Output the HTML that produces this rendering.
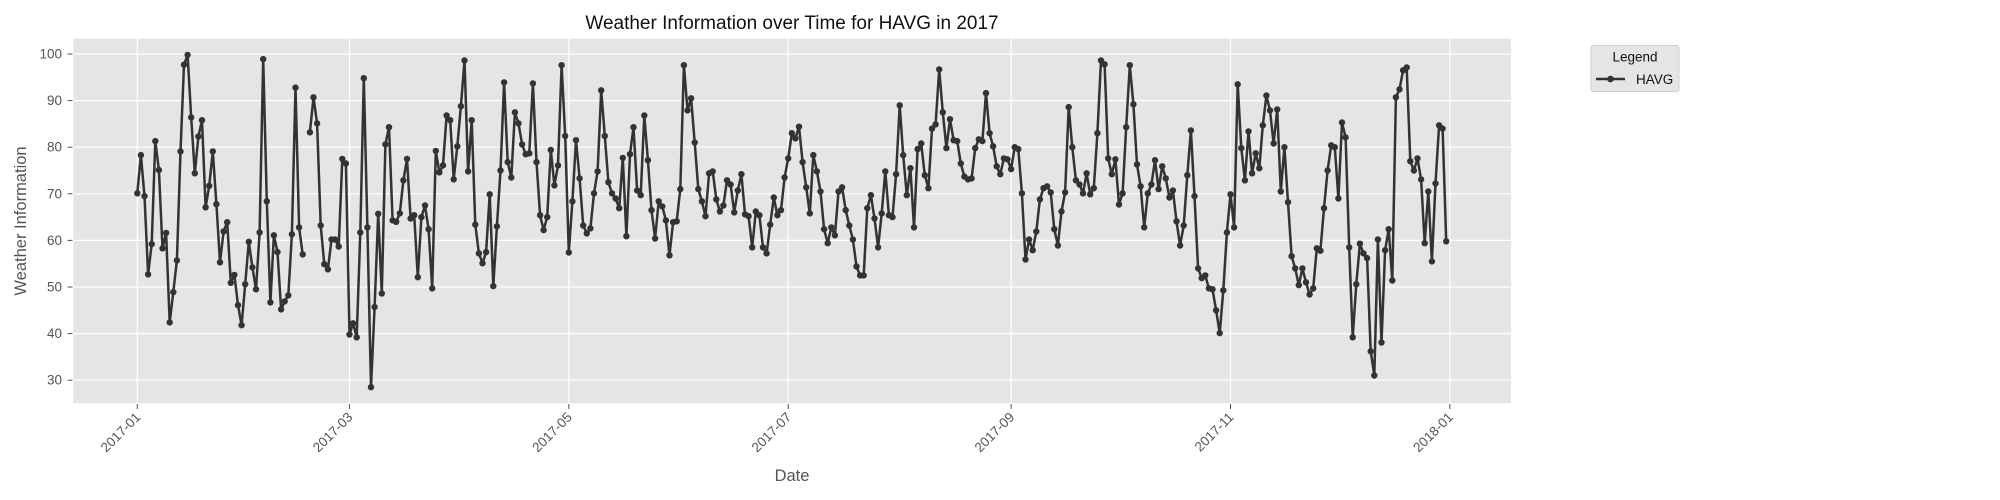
<!DOCTYPE html>
<html><head><meta charset="utf-8"><style>
html,body{margin:0;padding:0;background:#fff;}
svg{display:block;font-family:"Liberation Sans","DejaVu Sans",sans-serif;}
</style></head><body>
<svg id="chart" width="2000" height="500" viewBox="0 0 2000 500" xmlns="http://www.w3.org/2000/svg">
<rect width="2000" height="500" fill="#fff"/>
<text x="792" y="29" text-anchor="middle" font-size="19" fill="#111">Weather Information over Time for HAVG in 2017</text>
<rect x="73.3" y="38.5" width="1437.7" height="364.8" fill="#e5e5e5"/>
<g id="grid"></g>
<g id="series"></g>
<g id="xticks"></g>
<g id="yticks"></g>
<text x="792" y="481" text-anchor="middle" font-size="16.5" fill="#555">Date</text>
<text x="0" y="0" transform="translate(26,221) rotate(-90)" text-anchor="middle" font-size="16.5" fill="#555">Weather Information</text>
<g>
<rect x="1591" y="45.5" width="88" height="46" rx="2" fill="#e5e5e5" stroke="#d0d0d0" stroke-width="1"/>
<text x="1635" y="61.5" text-anchor="middle" font-size="13.5" fill="#111">Legend</text>
<line x1="1596" y1="79" x2="1625" y2="79" stroke="#333" stroke-width="2.5"/>
<circle cx="1610.5" cy="79" r="3.3" fill="#333"/>
<text x="1636" y="84" font-size="13.5" fill="#111">HAVG</text>
</g>
</svg>
<script>
const seriesName = "HAVG";
const startDate = "2017-01-01";
const havgValues = [
70.1,78.3,69.5,52.7,59.2,81.3,75.1,58.3,61.6,42.4,48.9,55.7,79.1,97.7,99.8,86.4,74.4,82.3,85.8,67.1,
71.7,79.1,67.8,55.3,61.9,63.9,50.9,52.6,46.1,41.8,50.6,59.7,54.2,49.5,61.7,98.9,68.4,46.7,61.1,57.5,
45.2,46.9,48.2,61.3,92.8,62.8,57.0,null,83.2,90.7,85.1,63.2,54.9,53.8,60.2,60.2,58.7,77.5,76.5,39.8,
42.2,39.2,61.7,94.8,62.8,28.5,45.7,65.7,48.6,80.6,84.3,64.3,64.0,65.8,72.9,77.5,64.7,65.4,52.1,65.0,
67.5,62.4,49.7,79.2,74.6,76.1,86.8,85.8,73.1,80.2,88.8,98.6,74.8,85.8,63.4,57.2,55.1,57.5,69.9,50.2,
63.0,75.0,93.9,76.8,73.5,87.5,85.1,80.6,78.5,78.7,93.7,76.8,65.4,62.2,65.0,79.4,71.8,76.1,97.6,82.4,
57.4,68.4,81.5,73.3,63.2,61.5,62.6,70.1,74.8,92.2,82.4,72.5,70.1,69.0,66.9,77.7,60.9,78.5,84.3,70.7,
69.7,86.8,77.2,66.5,60.4,68.4,67.3,64.3,56.8,63.9,64.1,71.0,97.6,87.9,90.5,81.0,71.0,68.4,65.2,74.4,
74.8,68.8,66.2,67.5,72.9,72.0,66.0,70.7,74.2,65.6,65.2,58.5,66.2,65.4,58.5,57.2,63.4,69.2,65.4,66.5,
73.5,77.6,83.0,81.9,84.4,76.8,71.4,65.8,78.3,74.8,70.5,62.4,59.4,62.8,61.1,70.5,71.4,66.5,63.2,60.2,
54.4,52.5,52.5,66.9,69.7,64.7,58.5,65.8,74.8,65.4,65.0,74.2,89.0,78.3,69.7,75.5,62.8,79.6,80.8,74.0,
71.2,84.0,84.9,96.7,87.5,79.8,86.0,81.5,81.3,76.5,73.7,73.1,73.3,79.8,81.7,81.3,91.6,83.0,80.2,75.9,
74.2,77.6,77.4,75.3,80.0,79.6,70.1,55.9,60.2,57.9,61.9,68.8,71.2,71.6,70.3,62.4,58.9,66.2,70.3,88.6,
80.0,72.9,72.0,70.1,74.4,69.9,71.2,83.0,98.6,97.8,77.6,74.2,77.4,67.7,70.1,84.3,97.6,89.2,76.3,71.6,
62.8,70.1,72.0,77.2,71.0,75.9,73.3,69.2,70.7,64.1,58.9,63.2,74.0,83.6,69.5,54.0,51.9,52.5,49.7,49.5,
45.0,40.1,49.3,61.7,69.9,62.8,93.5,79.8,72.9,83.4,74.4,78.7,75.5,84.7,91.1,87.9,80.8,88.1,70.5,80.0,
68.2,56.6,54.0,50.4,54.0,51.0,48.4,49.7,58.3,57.8,66.9,75.0,80.4,80.0,69.0,85.3,82.1,58.5,39.2,50.6,
59.3,57.2,56.2,36.2,31.0,60.2,38.1,57.9,62.4,51.4,90.7,92.4,96.5,97.1,77.0,75.0,77.6,73.1,59.4,70.5,
55.5,72.2,84.7,84.0,59.8
];
const yTickValues = [30,40,50,60,70,80,90,100];
const xTickLabels = ["2017-01","2017-03","2017-05","2017-07","2017-09","2017-11","2018-01"];
const xTickDays = [0,59,120,181,243,304,365];

const NS = "http://www.w3.org/2000/svg";
const plotL = 73.3, plotR = 1511, plotT = 38.5, plotB = 403.3;
function xScale(day){ return 137.3 + day * 3.596; }
function yScale(v){ return 54 + (100 - v) * 4.66; }
function mk(tag, attrs, parent){ const e = document.createElementNS(NS, tag); for (const k in attrs) e.setAttribute(k, attrs[k]); parent.appendChild(e); return e; }

const grid = document.getElementById('grid');
const xt = document.getElementById('xticks');
const yt = document.getElementById('yticks');
const ser = document.getElementById('series');

yTickValues.forEach(v => {
  const y = yScale(v);
  const g = mk('line', {x1: plotL, x2: plotR, y1: y, y2: y, stroke: '#fff', 'stroke-width': 1.2}, grid);
  
  
  const t = mk('line', {x1: 67.5, x2: 72.5, y1: y, y2: y, stroke: '#555', 'stroke-width': 1}, yt);
  
  
  const l = mk('text', {x: 62, y: y + 4.5, 'text-anchor': 'end', 'font-size': 13.5, fill: '#555'}, yt);
  
  
  l.textContent = v;
});

xTickDays.forEach((d, i) => {
  const x = xScale(d);
  const g = mk('line', {x1: x, x2: x, y1: plotT, y2: plotB, stroke: '#fff', 'stroke-width': 1.2}, grid);
  
  
  const t = mk('line', {x1: x, x2: x, y1: 404, y2: 409, stroke: '#555', 'stroke-width': 1}, xt);
  
  
  const l = mk('text', {x: 0, y: 0, 'text-anchor': 'end', 'font-size': 13.5, fill: '#555', transform: 'translate(' + (x + 4) + ',418) rotate(-45)'}, xt);
  
  
  l.textContent = xTickLabels[i];
});

let segs = [], cur = [];
havgValues.forEach((v, i) => {
  if (v === null) { if (cur.length) segs.push(cur); cur = []; return; }
  cur.push([xScale(i), yScale(v)]);
});
if (cur.length) segs.push(cur);
segs.forEach(s => {
  const p = mk('polyline', {points: s.map(q => q[0].toFixed(1) + ',' + q[1].toFixed(1)).join(' '), fill: 'none', stroke: '#333', 'stroke-width': 2.5, 'stroke-linejoin': 'round'}, ser);
  
  
});
havgValues.forEach((v, i) => {
  if (v === null) return;
  const c = mk('circle', {cx: xScale(i).toFixed(1), cy: yScale(v).toFixed(1), r: 3.2, fill: '#333'}, ser);
  
  
});
</script>
</body></html>
